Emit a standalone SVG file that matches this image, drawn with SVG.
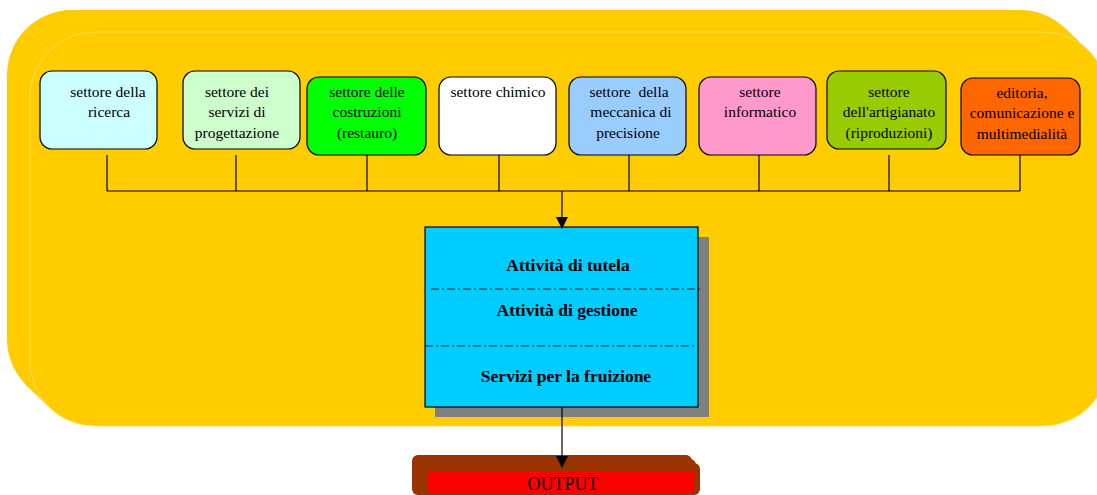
<svg xmlns="http://www.w3.org/2000/svg" width="1097" height="495" viewBox="0 0 1097 495">
  <style>
    .sector { stroke: #000; stroke-width: 1.2; }
    .lbl { font-family: "Liberation Serif", "Times New Roman", serif; font-size: 15.5px; fill: #000; text-anchor: middle; }
    .act { font-family: "Liberation Serif", "Times New Roman", serif; font-size: 17.5px; font-weight: bold; fill: #000; text-anchor: middle; }
    .wire { stroke: #000; stroke-width: 1.2; fill: none; }
    .sep { stroke: #0a2a36; stroke-width: 1; stroke-dasharray: 8 3 2 3; fill: none; }
  </style>
  <defs>
    <marker id="arrowBig" markerWidth="12" markerHeight="12" refX="11" refY="6" orient="auto" markerUnits="userSpaceOnUse" viewBox="0 0 12 12">
      <path d="M0,0 L12,6 L0,12 z" fill="#000"/>
    </marker>
  </defs>

  <!-- extruded yellow backdrop -->
  <g id="backdrop">
    <rect x="7" y="10" width="1078" height="394" rx="65" fill="#ffcc00"/>
    <polygon points="1020,75 1066,29 1089,51 1043,97" fill="#ffcc00"/>
    <polygon points="72,339 26,385 49,407 95,361" fill="#ffcc00"/>
    <polygon points="72,75 26,29 49,51 95,97" fill="#ffcc00"/>
    <rect x="30" y="32" width="1078" height="394" rx="65" fill="#ffcc00" stroke="#ffe066" stroke-width="0.8"/>
    <line x1="26" y1="29" x2="49" y2="51" stroke="#ffe066" stroke-width="0.6"/>
    <line x1="26" y1="385" x2="49" y2="407" stroke="#ffe066" stroke-width="0.6"/>
  </g>

  <!-- sectors -->
  <g id="s-ricerca">
    <rect class="sector" x="40" y="71" width="117" height="78" rx="12" fill="#ccffff"/>
    <text class="lbl" x="108" y="97">settore della</text>
    <text class="lbl" x="109" y="117">ricerca</text>
  </g>
  <g id="s-progettazione">
    <rect class="sector" x="183" y="71" width="117" height="78" rx="12" fill="#ccffcc"/>
    <text class="lbl" x="237" y="97">settore dei</text>
    <text class="lbl" x="237" y="117">servizi di</text>
    <text class="lbl" x="237" y="138">progettazione</text>
  </g>
  <g id="s-costruzioni">
    <rect class="sector" x="307" y="77" width="119" height="78" rx="12" fill="#00ff00"/>
    <text class="lbl" x="367" y="97">settore delle</text>
    <text class="lbl" x="367" y="117">costruzioni</text>
    <text class="lbl" x="367" y="138">(restauro)</text>
  </g>
  <g id="s-chimico">
    <rect class="sector" x="439" y="77" width="117" height="78" rx="12" fill="#ffffff"/>
    <text class="lbl" x="498" y="97">settore chimico</text>
  </g>
  <g id="s-meccanica">
    <rect class="sector" x="569" y="77" width="117" height="78" rx="12" fill="#99ccff"/>
    <text class="lbl" x="629" y="97" xml:space="preserve">settore  della</text>
    <text class="lbl" x="631" y="117">meccanica di</text>
    <text class="lbl" x="628" y="138">precisione</text>
  </g>
  <g id="s-informatico">
    <rect class="sector" x="699" y="77" width="117" height="78" rx="12" fill="#ff99cc"/>
    <text class="lbl" x="760" y="97">settore</text>
    <text class="lbl" x="760" y="117">informatico</text>
  </g>
  <g id="s-artigianato">
    <rect class="sector" x="827" y="71" width="119" height="78" rx="12" fill="#99cc00"/>
    <text class="lbl" x="889" y="97">settore</text>
    <text class="lbl" x="889" y="117">dell'artigianato</text>
    <text class="lbl" x="889" y="138">(riproduzioni)</text>
  </g>
  <g id="s-editoria">
    <rect class="sector" x="961" y="78" width="119" height="77" rx="12" fill="#ff6600"/>
    <text class="lbl" x="1022" y="98">editoria,</text>
    <text class="lbl" x="1022" y="118">comunicazione e</text>
    <text class="lbl" x="1022" y="139">multimedialità</text>
  </g>

  <!-- central activities block -->
  <g id="activities">
    <rect x="435" y="237" width="274" height="180" fill="#808080"/>
    <rect x="425" y="227" width="273" height="180" fill="#00ccff" stroke="#000" stroke-width="1.2"/>
    <line class="sep" x1="431" y1="289" x2="702" y2="289"/>
    <line class="sep" x1="425" y1="346" x2="698" y2="346"/>
    <text class="act" x="568" y="271">Attività di tutela</text>
    <text class="act" x="567" y="316">Attività di gestione</text>
    <text class="act" x="566" y="382">Servizi per la fruizione</text>
  </g>

  <!-- output -->
  <g id="output">
    <rect x="412" y="455" width="280" height="40" rx="6" fill="#993300"/>
    <rect x="416" y="459" width="280" height="36" rx="6" fill="#993300"/>
    <rect x="420" y="463" width="280" height="32" rx="6" fill="#993300"/>
    <rect x="428" y="471" width="266" height="22" fill="#ff0000"/>
    <text x="563" y="490" font-family="Liberation Serif, Times New Roman, serif" font-size="18" text-anchor="middle" fill="#000">OUTPUT</text>
  </g>

  <!-- connectors -->
  <g id="connectors">
    <line class="wire" x1="107" y1="155" x2="107" y2="191"/>
    <line class="wire" x1="236" y1="155" x2="236" y2="191"/>
    <line class="wire" x1="367" y1="155" x2="367" y2="191"/>
    <line class="wire" x1="499" y1="155" x2="499" y2="191"/>
    <line class="wire" x1="629" y1="155" x2="629" y2="191"/>
    <line class="wire" x1="759" y1="155" x2="759" y2="191"/>
    <line class="wire" x1="889" y1="155" x2="889" y2="191"/>
    <line class="wire" x1="1020" y1="155" x2="1020" y2="191"/>
    <line class="wire" x1="107" y1="191" x2="1020" y2="191"/>
    <line class="wire" x1="562" y1="191" x2="562" y2="228" stroke-width="2" marker-end="url(#arrowBig)"/>
    <line class="wire" x1="562" y1="407" x2="562" y2="467" marker-end="url(#arrowBig)"/>
  </g>
</svg>
